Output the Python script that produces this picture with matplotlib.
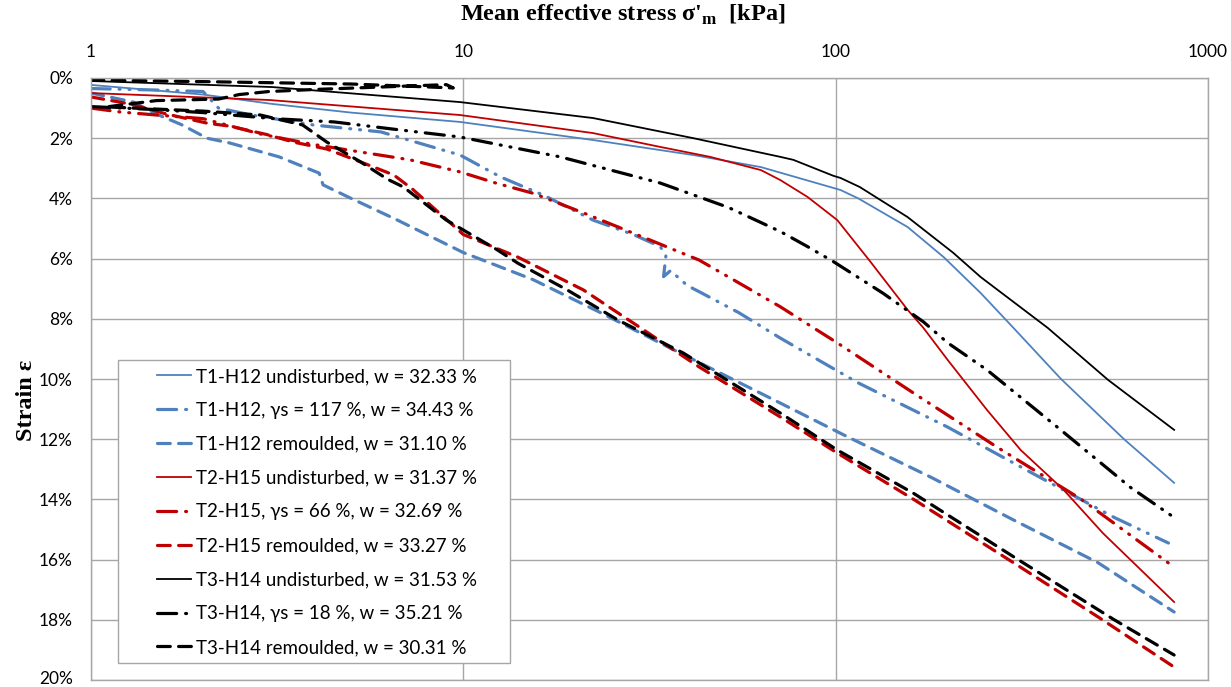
import numpy as np
import matplotlib
matplotlib.use("Agg")
import matplotlib.pyplot as plt
import matplotlib.transforms as mtransforms
from matplotlib.patches import Rectangle
from matplotlib.ticker import FixedLocator, FuncFormatter

# mean effective stress [kPa] and strain [%]
x_t1_und = [1, 2, 3.06, 5, 9.8, 22.3, 41.5, 63, 103, 115, 156, 195, 245, 295, 403, 595, 811]
y_t1_und = [0.23, 0.55, 0.86, 1.15, 1.46, 2.06, 2.56, 2.96, 3.72, 4.0, 4.95, 5.95, 7.14, 8.2, 10.0, 12.0, 13.45]

x_t1_ys = [1, 1.5, 2.0, 2.2, 2.7, 3.95, 6, 9.8, 12.6, 16.4, 22.3, 28.6, 33.8, 35, 34.5, 36, 40, 43, 55, 71, 115, 200, 334, 560, 783]
y_t1_ys = [0.35, 0.4, 0.45, 1.0, 1.23, 1.56, 1.79, 2.56, 3.29, 3.89, 4.72, 5.2, 5.6, 5.9, 6.6, 6.4, 6.9, 7.1, 7.8, 8.64, 10.13, 11.6, 13.1, 14.6, 15.45]

x_t1_rem = [1, 1.3, 1.5, 1.75, 2.05, 2.36, 3.2, 4.1, 4.2, 4.9, 6.6, 10, 15.4, 23.4, 35, 71, 108, 180, 300, 506, 811]
y_t1_rem = [0.5, 0.8, 1.2, 1.55, 2.0, 2.16, 2.62, 3.16, 3.55, 3.95, 4.7, 5.8, 6.7, 7.8, 8.9, 10.8, 11.93, 13.26, 14.68, 16.1, 17.74]

x_t2_und = [1, 3, 9.8, 22.3, 33.8, 46, 63, 71, 84, 101, 123, 156, 172, 200, 255, 314, 410, 522, 811]
y_t2_und = [0.5, 0.73, 1.23, 1.83, 2.29, 2.62, 3.06, 3.39, 3.95, 4.72, 6.05, 7.7, 8.3, 9.37, 11.03, 12.36, 13.69, 15.12, 17.41]

x_t2_ys = [1, 1.2, 1.5, 2, 2.85, 3.88, 5.3, 7.2, 9.8, 12.3, 15.4, 21, 31.7, 43, 71, 101, 162, 271, 457, 811]
y_t2_ys = [1.0, 1.13, 1.23, 1.35, 1.86, 2.19, 2.46, 2.72, 3.12, 3.5, 3.83, 4.48, 5.38, 6.05, 7.6, 8.8, 10.47, 12.26, 14.0, 16.25]

x_t2_rem = [1, 1.27, 1.6, 2.05, 2.36, 2.97, 3.5, 4.3, 5.3, 6.5, 7.3, 10, 14, 21, 28.6, 43, 71, 101, 162, 300, 506, 811]
y_t2_rem = [0.63, 0.86, 1.2, 1.5, 1.6, 1.88, 2.13, 2.36, 2.79, 3.22, 3.69, 5.2, 5.95, 7.04, 8.14, 9.6, 11.26, 12.46, 14.0, 16.1, 17.9, 19.57]

x_t3_und = [1, 3.06, 9.8, 22.3, 41.5, 71, 77, 98.6, 103, 116, 156, 207, 245, 371, 539, 811]
y_t3_und = [0.1, 0.3, 0.8, 1.33, 2.0, 2.62, 2.72, 3.25, 3.32, 3.62, 4.62, 5.81, 6.61, 8.3, 10.03, 11.69]

x_t3_ys = [1, 1.5, 2, 3.1, 4.5, 6.5, 9.8, 18.2, 33.8, 51.5, 71, 84, 98.6, 134, 172, 200, 255, 403, 619, 811]
y_t3_ys = [0.95, 1.05, 1.15, 1.35, 1.46, 1.7, 1.96, 2.62, 3.49, 4.3, 5.1, 5.6, 6.1, 7.15, 8.1, 8.8, 9.7, 11.7, 13.6, 14.6]

x_t3_rem = [1, 2, 5, 9.4, 9.0, 6, 4, 3, 2.5, 2.2, 1.5, 1.1, 2, 2.85, 3.7, 4.3, 5.3, 6.25, 6.9, 9, 10, 12.3, 14, 19, 26, 39, 71, 101, 162, 300, 560, 811]
y_t3_rem = [0.07, 0.12, 0.2, 0.33, 0.22, 0.3, 0.38, 0.45, 0.55, 0.7, 0.75, 0.96, 1.1, 1.23, 1.56, 2.13, 2.79, 3.36, 3.62, 4.72, 5.05, 5.7, 6.15, 7.04, 8.04, 9.14, 11.13, 12.36, 13.8, 15.9, 18.0, 19.17]

labels = ["T1-H12 undisturbed, w = 32.33 %",
          "T1-H12, γs = 117 %, w = 34.43 %",
          "T1-H12 remoulded, w = 31.10 %",
          "T2-H15 undisturbed, w = 31.37 %",
          "T2-H15, γs = 66 %, w = 32.69 %",
          "T2-H15 remoulded, w = 33.27 %",
          "T3-H14 undisturbed, w = 31.53 %",
          "T3-H14, γs = 18 %, w = 35.21 %",
          "T3-H14 remoulded, w = 30.31 %"]

xs = [x_t1_und, x_t1_ys, x_t1_rem, x_t2_und, x_t2_ys, x_t2_rem, x_t3_und, x_t3_ys, x_t3_rem]
ys = [y_t1_und, y_t1_ys, y_t1_rem, y_t2_und, y_t2_ys, y_t2_rem, y_t3_und, y_t3_ys, y_t3_rem]

blue = "#4F81BD"
red = "#C00000"
black = "#000000"
colors = [blue]*3 + [red]*3 + [black]*3
kinds = ["solid", "dashdotdot", "dashed"]*3

lab_font = "Lato"

fig = plt.figure(figsize=(12.31, 6.87), dpi=100)
ax = fig.add_axes([91/1231, 7/687, 1117/1231, 602/687])

for i in range(9):
    k = kinds[i]
    if k == "solid":
        ax.plot(xs[i], ys[i], color=colors[i], lw=1.3, zorder=2, label=labels[i])
    elif k == "dashed":
        ax.plot(xs[i], ys[i], color=colors[i], lw=2.3, zorder=2, label=labels[i],
                dashes=(4, 2.6), dash_capstyle="round")
    else:
        ax.plot(xs[i], ys[i], color=colors[i], lw=2.3, zorder=2, label=labels[i],
                dashes=(6, 2.8, 0.3, 2.8, 0.3, 2.8), dash_capstyle="round")

ax.set_xscale("log")
ax.set_xlim(1, 1000)
ax.set_ylim(20, 0)
ax.xaxis.set_major_locator(FixedLocator([1, 10, 100, 1000]))
ax.xaxis.set_minor_locator(FixedLocator([]))
ax.xaxis.set_major_formatter(FuncFormatter(lambda v, p: "%d" % v))
ax.yaxis.set_major_locator(FixedLocator(np.arange(0, 21, 2)))
ax.yaxis.set_major_formatter(FuncFormatter(lambda v, p: "%d%%" % v))
ax.xaxis.tick_top()
ax.tick_params(axis="both", length=0, labelsize=12.5)
ax.tick_params(axis="x", pad=13)
ax.tick_params(axis="y", pad=13)
for t in ax.get_xticklabels() + ax.get_yticklabels():
    t.set_family(lab_font)

# nudge the bottom label up a little so it stays inside the picture
lbl = ax.get_yticklabels()[-1]
lbl.set_transform(lbl.get_transform() + mtransforms.ScaledTranslation(0, 3/100, fig.dpi_scale_trans))

ax.grid(True, color="#A6A6A6", lw=1.0)
ax.set_axisbelow(True)
for s in ax.spines.values():
    s.set_color("#A6A6A6")
    s.set_linewidth(1.0)

fig.text(623/1231, 1 - 15/687, "Mean effective stress σ'$_\\mathregular{m}$  [kPa]",
         family="Liberation Serif", weight="bold", fontsize=17.5, ha="center", va="center")
fig.text(27/1231, 1 - 400/687, "Strain ε", family="Liberation Serif", weight="bold",
         fontsize=17.5, ha="center", va="center", rotation=90)

# legend box
ax.add_patch(Rectangle((27/1117, 17/602), 392/1117, 303/602, transform=ax.transAxes,
                       facecolor="white", edgecolor="#A6A6A6", lw=1.0, zorder=4))
leg = ax.legend(loc="upper left", bbox_to_anchor=((157-91)/1117, (680-368)/602),
                frameon=False, borderpad=0, borderaxespad=0, handlelength=1.8,
                handletextpad=0.3, labelspacing=0.9, prop={"family": lab_font, "size": 13.5})
leg.set_zorder(5)

fig.savefig("out.png", dpi=100)
